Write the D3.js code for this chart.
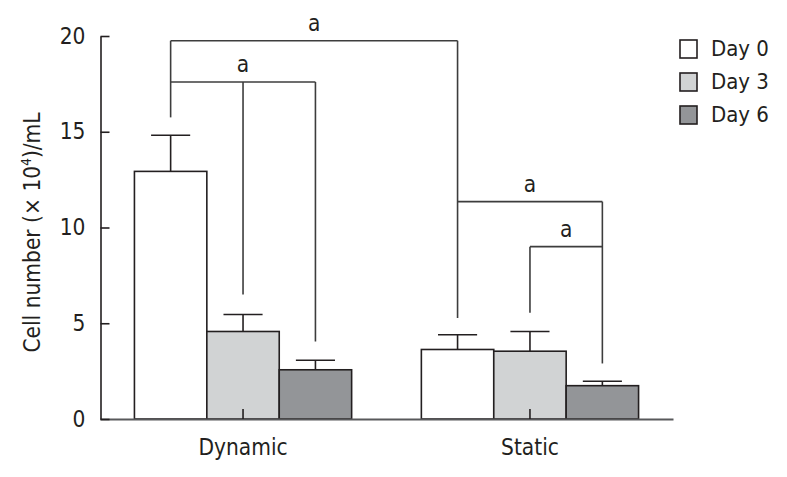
<!DOCTYPE html>
<html>
<head>
<meta charset="utf-8">
<script src="https://cdn.jsdelivr.net/npm/d3@7"></script>
<style>
  html, body { margin: 0; padding: 0; background: #fff; }
  svg { display: block; }
  text { font-family: "DejaVu Sans Condensed", "Liberation Sans", Arial, sans-serif; fill: #231f20; }
</style>
</head>
<body>
<svg id="chart" width="787" height="477"></svg>
<script>
// ---- data ----
const categories = ["Dynamic", "Static"];
const seriesNames = ["Day 0", "Day 3", "Day 6"];
const seriesColors = ["#ffffff", "#d1d3d4", "#939598"];
const day0Values = [12.93, 3.63];
const day3Values = [4.57, 3.54];
const day6Values = [2.57, 1.74];
const day0Errors = [1.89, 0.77];
const day3Errors = [0.89, 1.03];
const day6Errors = [0.50, 0.23];
const yTicks = [0, 5, 10, 15, 20];
const yLabel = "Cell number (\u00d7 10";
// significance brackets: level (y value), label, drops [category, series, end value]
const bracketLevels = [19.75, 17.6, 11.35, 9.0];
const bracketLabels = ["a", "a", "a", "a"];
const bracketDrops = [
  [["Dynamic", "Day 0", 15.75], ["Static", "Day 0", 5.27]],
  [["Dynamic", "Day 0", 17.6], ["Dynamic", "Day 3", 6.5], ["Dynamic", "Day 6", 4.05]],
  [["Static", "Day 0", 11.35], ["Static", "Day 6", 2.9]],
  [["Static", "Day 3", 5.55], ["Static", "Day 6", 9.0]]
];

const values = [day0Values, day3Values, day6Values];
const errors = [day0Errors, day3Errors, day6Errors];

const svg = d3.select("#chart");
const y = d3.scaleLinear().domain([0, 20]).range([419, 36]);
const x0 = d3.scaleBand().domain(categories).range([100, 673]).paddingInner(0.243).paddingOuter(0.12);
const x1 = d3.scaleBand().domain(seriesNames).range([0, x0.bandwidth()]);
const cx = (cat, s) => x0(cat) + x1(s) + x1.bandwidth() / 2;

const stroke = "#231f20";

// bars
const rows = [];
seriesNames.forEach((s, si) => {
  categories.forEach((c, ci) => {
    rows.push({ c, s, si, v: values[si][ci], e: errors[si][ci] });
  });
});

// error bars (upper)
const capHalf = x1.bandwidth() * 0.27;
const eg = svg.append("g").attr("stroke", stroke).attr("stroke-width", 1.6);
rows.forEach(d => {
  const xc = cx(d.c, d.s);
  eg.append("line").attr("x1", xc).attr("x2", xc).attr("y1", y(d.v)).attr("y2", y(d.v + d.e));
  eg.append("line").attr("x1", xc - capHalf).attr("x2", xc + capHalf).attr("y1", y(d.v + d.e)).attr("y2", y(d.v + d.e));
});

svg.append("g").selectAll("rect").data(rows).join("rect")
  .attr("x", d => x0(d.c) + x1(d.s))
  .attr("y", d => y(d.v))
  .attr("width", x1.bandwidth())
  .attr("height", d => y(0) - y(d.v))
  .attr("fill", d => seriesColors[d.si])
  .attr("stroke", stroke)
  .attr("stroke-width", 1.6);

// x axis
const xAxis = d3.axisBottom(x0).tickSizeInner(-10).tickSizeOuter(0).tickPadding(20);
const gx = svg.append("g").attr("transform", `translate(0,${y(0)})`).call(xAxis);
gx.select(".domain").attr("stroke", "#58595b").attr("stroke-width", 2.2);
gx.selectAll(".tick line").attr("stroke", stroke).attr("stroke-width", 1.6);
gx.selectAll(".tick text").attr("font-size", 22.5).attr("dy", "0.71em");

// y axis
const yAxis = d3.axisLeft(y).tickValues(yTicks).tickSizeInner(-9).tickSizeOuter(0).tickPadding(15);
const gy = svg.append("g").attr("transform", "translate(100.5,0)").call(yAxis);
gy.select(".domain").attr("stroke", stroke).attr("stroke-width", 1.6);
gy.selectAll(".tick line").attr("stroke", stroke).attr("stroke-width", 1.6);
gy.selectAll(".tick text").attr("font-size", 22.5);
svg.selectAll(".tick text").attr("fill", "#231f20").attr("font-family", null);

// y label
const yl = svg.append("text")
  .attr("transform", `translate(40,${(y(0) + y(20)) / 2 + 5}) rotate(-90)`)
  .attr("text-anchor", "middle")
  .attr("font-size", 22.5);
yl.append("tspan").text(yLabel);
yl.append("tspan").attr("font-size", 13.5).attr("dy", -9).text("4");
yl.append("tspan").attr("dy", 9).text(")/mL");

// brackets
const bg = svg.append("g").attr("stroke", "#3d3d3d").attr("stroke-width", 1.6).attr("fill", "none");
bracketLevels.forEach((lvl, i) => {
  const drops = bracketDrops[i];
  const xs = drops.map(d => cx(d[0], d[1]));
  const xmin = d3.min(xs), xmax = d3.max(xs);
  bg.append("line").attr("x1", xmin).attr("x2", xmax).attr("y1", y(lvl)).attr("y2", y(lvl));
  drops.forEach((d, j) => {
    bg.append("line").attr("x1", xs[j]).attr("x2", xs[j]).attr("y1", y(lvl)).attr("y2", y(d[2]));
  });
  svg.append("text").attr("x", (xmin + xmax) / 2).attr("y", y(lvl) - 9.5)
    .attr("text-anchor", "middle").attr("font-size", 22.5).text(bracketLabels[i]);
});

// legend
const lg = svg.append("g").attr("transform", "translate(680,40)");
seriesNames.forEach((s, i) => {
  const g = lg.append("g").attr("transform", `translate(0,${i * 33})`);
  g.append("rect").attr("width", 17).attr("height", 18).attr("fill", seriesColors[i])
    .attr("stroke", stroke).attr("stroke-width", 1.6);
  g.append("text").attr("x", 31).attr("y", 16).attr("font-size", 22).text(s);
});
</script>
</body>
</html>
